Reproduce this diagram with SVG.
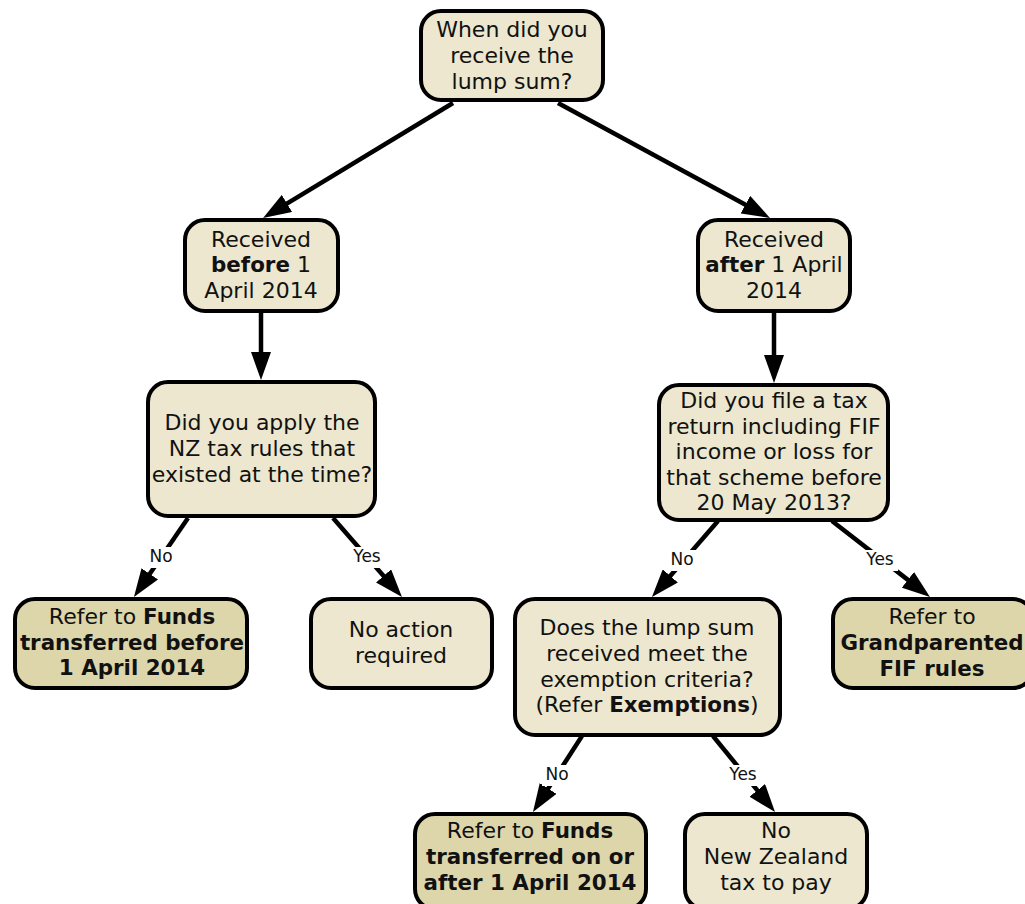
<svg xmlns="http://www.w3.org/2000/svg" width="1025" height="904" viewBox="0 0 1025 904">
<style>
.n{fill:#ECE7CE;stroke:#000;stroke-width:4}
.r{fill:#DDD6AA;stroke:#000;stroke-width:4}
text{font-family:"DejaVu Sans","Verdana",sans-serif;font-size:22px;fill:#111;text-anchor:middle}
.b{font-weight:bold;font-size:21.4px}
.lbl{font-size:17px}
.c line{stroke:#000;stroke-width:4.5;marker-end:url(#ah)}
.bg{fill:#fff}
</style>
<defs>
<marker id="ah" markerUnits="userSpaceOnUse" markerWidth="28" markerHeight="20" refX="18" refY="10" orient="auto" viewBox="0 0 28 20">
<path d="M0,0 L28,10 L0,20 z" fill="#000"/>
</marker>
</defs>
<rect width="1025" height="904" fill="#fff"/>
<g id="connectors" class="c">
<line x1="453" y1="103" x2="271.6" y2="212.8"/>
<line x1="558" y1="103" x2="761.2" y2="213.2"/>
<line x1="261" y1="313" x2="261" y2="370"/>
<line x1="774" y1="313" x2="774" y2="373"/>
<line x1="188" y1="518" x2="139.6" y2="588.7"/>
<line x1="333" y1="518" x2="395.4" y2="589.5"/>
<line x1="718" y1="521" x2="658.5" y2="589.5"/>
<line x1="832" y1="521" x2="922.1" y2="590.9"/>
<line x1="582" y1="736" x2="538.4" y2="803.6"/>
<line x1="713" y1="736" x2="768.7" y2="804.3"/>
<rect class="bg" x="146" y="547" width="30" height="21"/>
<text class="lbl" x="161" y="562">No</text>
<rect class="bg" x="349" y="547" width="36" height="21"/>
<text class="lbl" x="367" y="562">Yes</text>
<rect class="bg" x="667" y="550" width="30" height="21"/>
<text class="lbl" x="682" y="565">No</text>
<rect class="bg" x="862" y="550" width="36" height="21"/>
<text class="lbl" x="880" y="565">Yes</text>
<rect class="bg" x="542" y="765" width="30" height="21"/>
<text class="lbl" x="557" y="780">No</text>
<rect class="bg" x="725" y="765" width="36" height="21"/>
<text class="lbl" x="743" y="780">Yes</text>
</g>
<g id="n1">
<rect class="n" x="421" y="11" width="182" height="89" rx="20"/>
<text x="512" y="37">When did you</text>
<text x="512" y="63">receive the</text>
<text x="512" y="89">lump sum?</text>
</g>
<g id="n2">
<rect class="n" x="185" y="220" width="153" height="91" rx="20"/>
<text x="261" y="247">Received</text>
<text x="261" y="272"><tspan class="b">before</tspan> 1</text>
<text x="261" y="298">April 2014</text>
</g>
<g id="n3">
<rect class="n" x="698" y="220" width="152" height="91" rx="20"/>
<text x="774" y="247">Received</text>
<text x="774" y="272"><tspan class="b">after</tspan> 1 April</text>
<text x="774" y="298">2014</text>
</g>
<g id="n4">
<rect class="n" x="148" y="382" width="227" height="134" rx="20"/>
<text x="262" y="430">Did you apply the</text>
<text x="262" y="456">NZ tax rules that</text>
<text x="262" y="482">existed at the time?</text>
</g>
<g id="n5">
<rect class="n" x="659" y="385" width="229" height="135" rx="20"/>
<text x="774" y="408">Did you file a tax</text>
<text x="774" y="434">return including FIF</text>
<text x="774" y="459">income or loss for</text>
<text x="774" y="485">that scheme before</text>
<text x="774" y="510">20 May 2013?</text>
</g>
<g id="n6">
<rect class="r" x="15" y="599" width="232" height="89" rx="20"/>
<text x="132" y="624">Refer to <tspan class="b">Funds</tspan></text>
<text x="132" y="650" class="b">transferred before</text>
<text x="132" y="675" class="b">1 April 2014</text>
</g>
<g id="n7">
<rect class="n" x="311" y="599" width="181" height="89" rx="20"/>
<text x="401" y="637">No action</text>
<text x="401" y="663">required</text>
</g>
<g id="n8">
<rect class="n" x="515" y="599" width="265" height="136" rx="20"/>
<text x="647" y="635">Does the lump sum</text>
<text x="647" y="661">received meet the</text>
<text x="647" y="687">exemption criteria?</text>
<text x="647" y="712">(Refer <tspan class="b">Exemptions</tspan>)</text>
</g>
<g id="n9">
<rect class="r" x="833" y="599" width="200" height="89" rx="20"/>
<text x="932" y="624">Refer to</text>
<text x="932" y="650" class="b">Grandparented</text>
<text x="932" y="676" class="b">FIF rules</text>
</g>
<g id="n10">
<rect class="r" x="415" y="814" width="231" height="95" rx="20"/>
<text x="530" y="838">Refer to <tspan class="b">Funds</tspan></text>
<text x="530" y="864" class="b">transferred on or</text>
<text x="530" y="890" class="b">after 1 April 2014</text>
</g>
<g id="n11">
<rect class="n" x="685" y="814" width="182" height="95" rx="20"/>
<text x="776" y="838">No</text>
<text x="776" y="864">New Zealand</text>
<text x="776" y="890">tax to pay</text>
</g>
</svg>
